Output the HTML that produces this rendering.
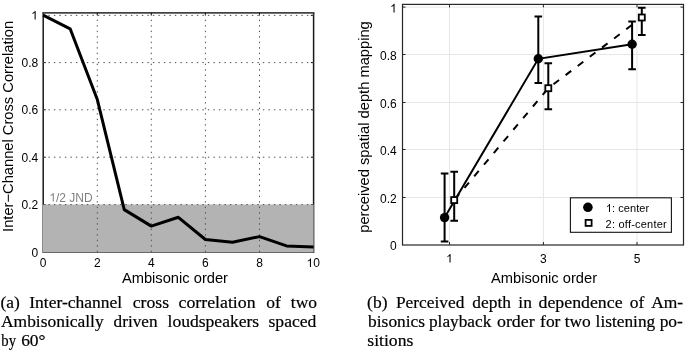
<!DOCTYPE html>
<html><head><meta charset="utf-8">
<style>
html,body{margin:0;padding:0;background:#fff;}
body{width:685px;height:351px;overflow:hidden;position:relative;}
svg{position:absolute;left:0;top:0;will-change:transform;}
</style></head>
<body>
<svg width="685" height="351" viewBox="0 0 685 351" font-family="Liberation Sans, sans-serif">
<!-- ===== Chart 1 ===== -->
<g id="c1">
  <!-- axes box -->
  <path d="M43.2,12.2V252.3H313.6V12.2" fill="none" stroke="#1a1a1a" stroke-width="1.5"/>
  <line x1="42.45" y1="12.9" x2="314.35" y2="12.9" stroke="#444" stroke-width="1.9"/>
  <!-- ticks -->
  <g stroke="#111" stroke-width="1">
    <line x1="97.3" y1="12.5" x2="97.3" y2="15.3"/>
    <line x1="151.3" y1="12.5" x2="151.3" y2="15.3"/>
    <line x1="205.4" y1="12.5" x2="205.4" y2="15.3"/>
    <line x1="259.5" y1="12.5" x2="259.5" y2="15.3"/>
    <line x1="313.6" y1="62.6" x2="310.8" y2="62.6"/>
    <line x1="313.6" y1="109.8" x2="310.8" y2="109.8"/>
    <line x1="313.6" y1="157.2" x2="310.8" y2="157.2"/>
    <line x1="43" y1="62.6" x2="45.8" y2="62.6"/>
    <line x1="43" y1="109.8" x2="45.8" y2="109.8"/>
    <line x1="43" y1="157.2" x2="45.8" y2="157.2"/>
    <line x1="313.6" y1="15.4" x2="310.8" y2="15.4"/>
    <line x1="313.6" y1="204.6" x2="310.8" y2="204.6"/>
    <line x1="43" y1="204.6" x2="45.8" y2="204.6"/>
    <line x1="97.3" y1="252.3" x2="97.3" y2="249.5"/>
    <line x1="151.3" y1="252.3" x2="151.3" y2="249.5"/>
    <line x1="205.4" y1="252.3" x2="205.4" y2="249.5"/>
    <line x1="259.5" y1="252.3" x2="259.5" y2="249.5"/>
  </g>
  <!-- gray JND patch -->
  <rect x="42.8" y="204.5" width="270.8" height="48" fill="#b3b3b3"/>
  <!-- grid dotted -->
  <g stroke="#505050" stroke-width="1" stroke-dasharray="1.4 4.1" fill="none">
    <g stroke-dashoffset="5.6">
    <line x1="43" y1="15.4" x2="313.6" y2="15.4"/>
    <line x1="43" y1="62.6" x2="313.6" y2="62.6"/>
    <line x1="43" y1="109.8" x2="313.6" y2="109.8"/>
    <line x1="43" y1="157.2" x2="313.6" y2="157.2"/>
    <line x1="43" y1="204.6" x2="313.6" y2="204.6"/>
    </g>
    <g stroke-dashoffset="3.8">
    <line x1="97.3" y1="12.5" x2="97.3" y2="252.3"/>
    <line x1="151.3" y1="12.5" x2="151.3" y2="252.3"/>
    <line x1="205.4" y1="12.5" x2="205.4" y2="252.3"/>
    <line x1="259.5" y1="12.5" x2="259.5" y2="252.3"/>
    </g>
  </g>
  <!-- data -->
  <polyline fill="none" stroke="#000" stroke-width="3" stroke-linejoin="round" stroke-linecap="butt"
    points="43.10,15.2 70.15,28.8 97.20,99.2 124.25,209.6 151.30,226.1 178.35,217.3 205.40,239.5 232.45,242.2 259.50,236.6 286.55,245.9 313.60,247.0"/>
  <!-- labels -->
  <g font-size="12" fill="#000" text-anchor="end">
    <text x="38.3" y="256.6">0</text>
    <text x="38.3" y="209.2">0.2</text>
    <text x="38.3" y="161.8">0.4</text>
    <text x="38.3" y="114.3">0.6</text>
    <text x="38.3" y="66.9">0.8</text>
  </g>
  <g font-size="12" fill="#000" text-anchor="middle">
    <text x="43.2" y="267.1">0</text>
    <text x="97.3" y="267.1">2</text>
    <text x="151.3" y="267.1">4</text>
    <text x="205.4" y="267.1">6</text>
    <text x="259.5" y="267.1">8</text>
    <text x="313.2" y="267.1" text-anchor="start">0</text>
  </g>
  <path d="M372 0L284 0L284 560Q252 530 200 499Q148 469 107 453L107 538Q181 573 236 622Q292 671 315 716L372 716Z" transform="translate(49.3,201.5) scale(0.012,-0.012)" fill="#808080"/><text x="55.97" y="201.5" font-size="12" fill="#808080">/2 JND</text>
  <text x="121.9" y="282.8" font-size="14.7" fill="#000">Ambisonic order</text>
  <text transform="translate(13,126.4) rotate(-90)" text-anchor="middle" font-size="14.7" fill="#000">Inter&#8722;Channel Cross Correlation</text>
</g>

<!-- ===== Chart 2 ===== -->
<g id="c2">
  <g stroke="#e6e6e6" stroke-width="1" fill="none">
    <line x1="449.5" y1="4.4" x2="449.5" y2="245"/>
    <line x1="543.4" y1="4.4" x2="543.4" y2="245"/>
    <line x1="637.0" y1="4.4" x2="637.0" y2="245"/>
    <line x1="402.5" y1="197.5" x2="683.5" y2="197.5"/>
    <line x1="402.5" y1="149.5" x2="683.5" y2="149.5"/>
    <line x1="402.5" y1="102.5" x2="683.5" y2="102.5"/>
    <line x1="402.5" y1="54.5" x2="683.5" y2="54.5"/>
    <line x1="402.5" y1="7.1" x2="683.5" y2="7.1"/>
  </g>
  <rect x="402.5" y="4.4" width="281.0" height="240.6" fill="none" stroke="#262626" stroke-width="1.2"/>
  <g stroke="#262626" stroke-width="1">
    <line x1="402.5" y1="197.5" x2="405.5" y2="197.5"/>
    <line x1="683.5" y1="197.5" x2="680.5" y2="197.5"/>
    <line x1="402.5" y1="149.5" x2="405.5" y2="149.5"/>
    <line x1="683.5" y1="149.5" x2="680.5" y2="149.5"/>
    <line x1="402.5" y1="102.5" x2="405.5" y2="102.5"/>
    <line x1="683.5" y1="102.5" x2="680.5" y2="102.5"/>
    <line x1="402.5" y1="54.5" x2="405.5" y2="54.5"/>
    <line x1="683.5" y1="54.5" x2="680.5" y2="54.5"/>
    <line x1="402.5" y1="7.1" x2="405.5" y2="7.1"/>
    <line x1="683.5" y1="7.1" x2="680.5" y2="7.1"/>
    <line x1="449.5" y1="245" x2="449.5" y2="242"/>
    <line x1="449.5" y1="4.4" x2="449.5" y2="7.4"/>
    <line x1="543.4" y1="245" x2="543.4" y2="242"/>
    <line x1="543.4" y1="4.4" x2="543.4" y2="7.4"/>
    <line x1="637.0" y1="245" x2="637.0" y2="242"/>
    <line x1="637.0" y1="4.4" x2="637.0" y2="7.4"/>
  </g>
  <!-- error bars -->
  <g stroke="#000" stroke-width="2" fill="none">
    <path d="M444.6,173.5V241.6M440.8,173.5H448.4M440.8,241.6H448.4"/>
    <path d="M538.3,16.4V83M534.5,16.4H542.1M534.5,83H542.1"/>
    <path d="M632.1,21.4V69.2M628.3,21.4H635.9M628.3,69.2H635.9"/>
    <path d="M454.2,171.8V220.8M450.4,171.8H458M450.4,220.8H458"/>
    <path d="M548.3,63.2V109.2M544.5,63.2H552.1M544.5,109.2H552.1"/>
    <path d="M641.8,7.8V34.9M638,7.8H645.6M638,34.9H645.6"/>
  </g>
  <!-- lines -->
  <polyline fill="none" stroke="#000" stroke-width="2" points="444.6,217.6 538.3,58.8 632.1,44.3"/>
  <polyline fill="none" stroke="#000" stroke-width="2" stroke-dasharray="7 8.2" stroke-dashoffset="14.5" points="454.2,200.1 548.3,88.2 641.8,17.5"/>
  <!-- markers -->
  <g fill="#000">
    <circle cx="444.6" cy="217.6" r="4.7"/>
    <circle cx="538.3" cy="58.8" r="4.7"/>
    <circle cx="632.1" cy="44.3" r="4.7"/>
  </g>
  <g fill="#fff" stroke="#000" stroke-width="1.8">
    <rect x="451.2" y="197.1" width="6" height="6"/>
    <rect x="545.3" y="85.2" width="6" height="6"/>
    <rect x="638.8" y="14.5" width="6" height="6"/>
  </g>
  <!-- legend -->
  <rect x="570.4" y="197.8" width="101" height="34.5" fill="#fff" stroke="#111" stroke-width="1.1"/>
  <circle cx="587.9" cy="207.3" r="4.8" fill="#000"/>
  <rect x="585.6" y="219.9" width="6" height="6" fill="#fff" stroke="#000" stroke-width="1.8"/>
  <g font-size="11" fill="#000">
    <text x="612.0" y="212" textLength="37.2">: center</text>
    <text x="605.6" y="227.5" textLength="61.1">2: off-center</text>
  </g>
  <!-- tick labels -->
  <g font-size="12" fill="#000" text-anchor="end">
    <text x="396.8" y="250.4">0</text>
    <text x="396.8" y="202.8">0.2</text>
    <text x="396.8" y="155.0">0.4</text>
    <text x="396.8" y="107.6">0.6</text>
    <text x="396.8" y="59.7">0.8</text>
  </g>
  <g font-size="12" fill="#000" text-anchor="middle">
    <text x="543.3" y="262.6">3</text>
    <text x="637.0" y="262.6">5</text>
  </g>
  <text x="544" y="282.6" text-anchor="middle" font-size="14.7" fill="#000">Ambisonic order</text>
  <text transform="translate(368.6,127) rotate(-90)" text-anchor="middle" font-size="14.7" fill="#000">perceived spatial depth mapping</text>
</g>
<!-- ones -->
<path d="M372 0L284 0L284 560Q252 530 200 499Q148 469 107 453L107 538Q181 573 236 622Q292 671 315 716L372 716Z" transform="translate(31.2,19.5) scale(0.012,-0.012)" fill="#000"/>
<path d="M372 0L284 0L284 560Q252 530 200 499Q148 469 107 453L107 538Q181 573 236 622Q292 671 315 716L372 716Z" transform="translate(306.5,267.1) scale(0.012,-0.012)" fill="#000"/>
<path d="M372 0L284 0L284 560Q252 530 200 499Q148 469 107 453L107 538Q181 573 236 622Q292 671 315 716L372 716Z" transform="translate(390.1,12.4) scale(0.012,-0.012)" fill="#000"/>
<path d="M372 0L284 0L284 560Q252 530 200 499Q148 469 107 453L107 538Q181 573 236 622Q292 671 315 716L372 716Z" transform="translate(446.1,262.6) scale(0.012,-0.012)" fill="#000"/>
<path d="M372 0L284 0L284 560Q252 530 200 499Q148 469 107 453L107 538Q181 573 236 622Q292 671 315 716L372 716Z" transform="translate(605.9,212) scale(0.011,-0.011)" fill="#000"/>
<g id="caption" font-family="Liberation Serif, serif" font-size="16.4" fill="#000" stroke="#000" stroke-width="0.2">
<text x="0.45" y="307.5" textLength="19.36" lengthAdjust="spacingAndGlyphs">(a)</text>
<text x="29.25" y="307.5" textLength="92.86" lengthAdjust="spacingAndGlyphs">Inter-channel</text>
<text x="132.75" y="307.5" textLength="36.26" lengthAdjust="spacingAndGlyphs">cross</text>
<text x="178.54" y="307.5" textLength="77.09" lengthAdjust="spacingAndGlyphs">correlation</text>
<text x="266.26" y="307.5" textLength="14.53" lengthAdjust="spacingAndGlyphs">of</text>
<text x="290.86" y="307.5" textLength="26.16" lengthAdjust="spacingAndGlyphs">two</text>
<text x="1.03" y="326.6" textLength="102.61" lengthAdjust="spacingAndGlyphs">Ambisonically</text>
<text x="113.56" y="326.6" textLength="43.97" lengthAdjust="spacingAndGlyphs">driven</text>
<text x="167.53" y="326.6" textLength="91.66" lengthAdjust="spacingAndGlyphs">loudspeakers</text>
<text x="268.47" y="326.6" textLength="47.94" lengthAdjust="spacingAndGlyphs">spaced</text>
<text x="1.30" y="346.3" textLength="14.70" lengthAdjust="spacingAndGlyphs">by</text>
<text x="21.17" y="346.3" textLength="24.42" lengthAdjust="spacingAndGlyphs">60&#176;</text>
<text x="367.13" y="307.5" textLength="20.34" lengthAdjust="spacingAndGlyphs">(b)</text>
<text x="395.96" y="307.5" textLength="68.40" lengthAdjust="spacingAndGlyphs">Perceived</text>
<text x="472.36" y="307.5" textLength="38.67" lengthAdjust="spacingAndGlyphs">depth</text>
<text x="518.34" y="307.5" textLength="13.57" lengthAdjust="spacingAndGlyphs">in</text>
<text x="538.54" y="307.5" textLength="84.03" lengthAdjust="spacingAndGlyphs">dependence</text>
<text x="629.86" y="307.5" textLength="14.53" lengthAdjust="spacingAndGlyphs">of</text>
<text x="651.20" y="307.5" textLength="31.97" lengthAdjust="spacingAndGlyphs">Am-</text>
<text x="368.10" y="326.6" textLength="56.99" lengthAdjust="spacingAndGlyphs">bisonics</text>
<text x="428.93" y="326.6" textLength="62.47" lengthAdjust="spacingAndGlyphs">playback</text>
<text x="496.94" y="326.6" textLength="37.76" lengthAdjust="spacingAndGlyphs">order</text>
<text x="540.10" y="326.6" textLength="20.34" lengthAdjust="spacingAndGlyphs">for</text>
<text x="564.66" y="326.6" textLength="26.16" lengthAdjust="spacingAndGlyphs">two</text>
<text x="595.63" y="326.6" textLength="59.56" lengthAdjust="spacingAndGlyphs">listening</text>
<text x="659.65" y="326.6" textLength="23.25" lengthAdjust="spacingAndGlyphs">po-</text>
<text x="367.27" y="346.3" textLength="46.13" lengthAdjust="spacingAndGlyphs">sitions</text>
</g>
</svg>

</body></html>
